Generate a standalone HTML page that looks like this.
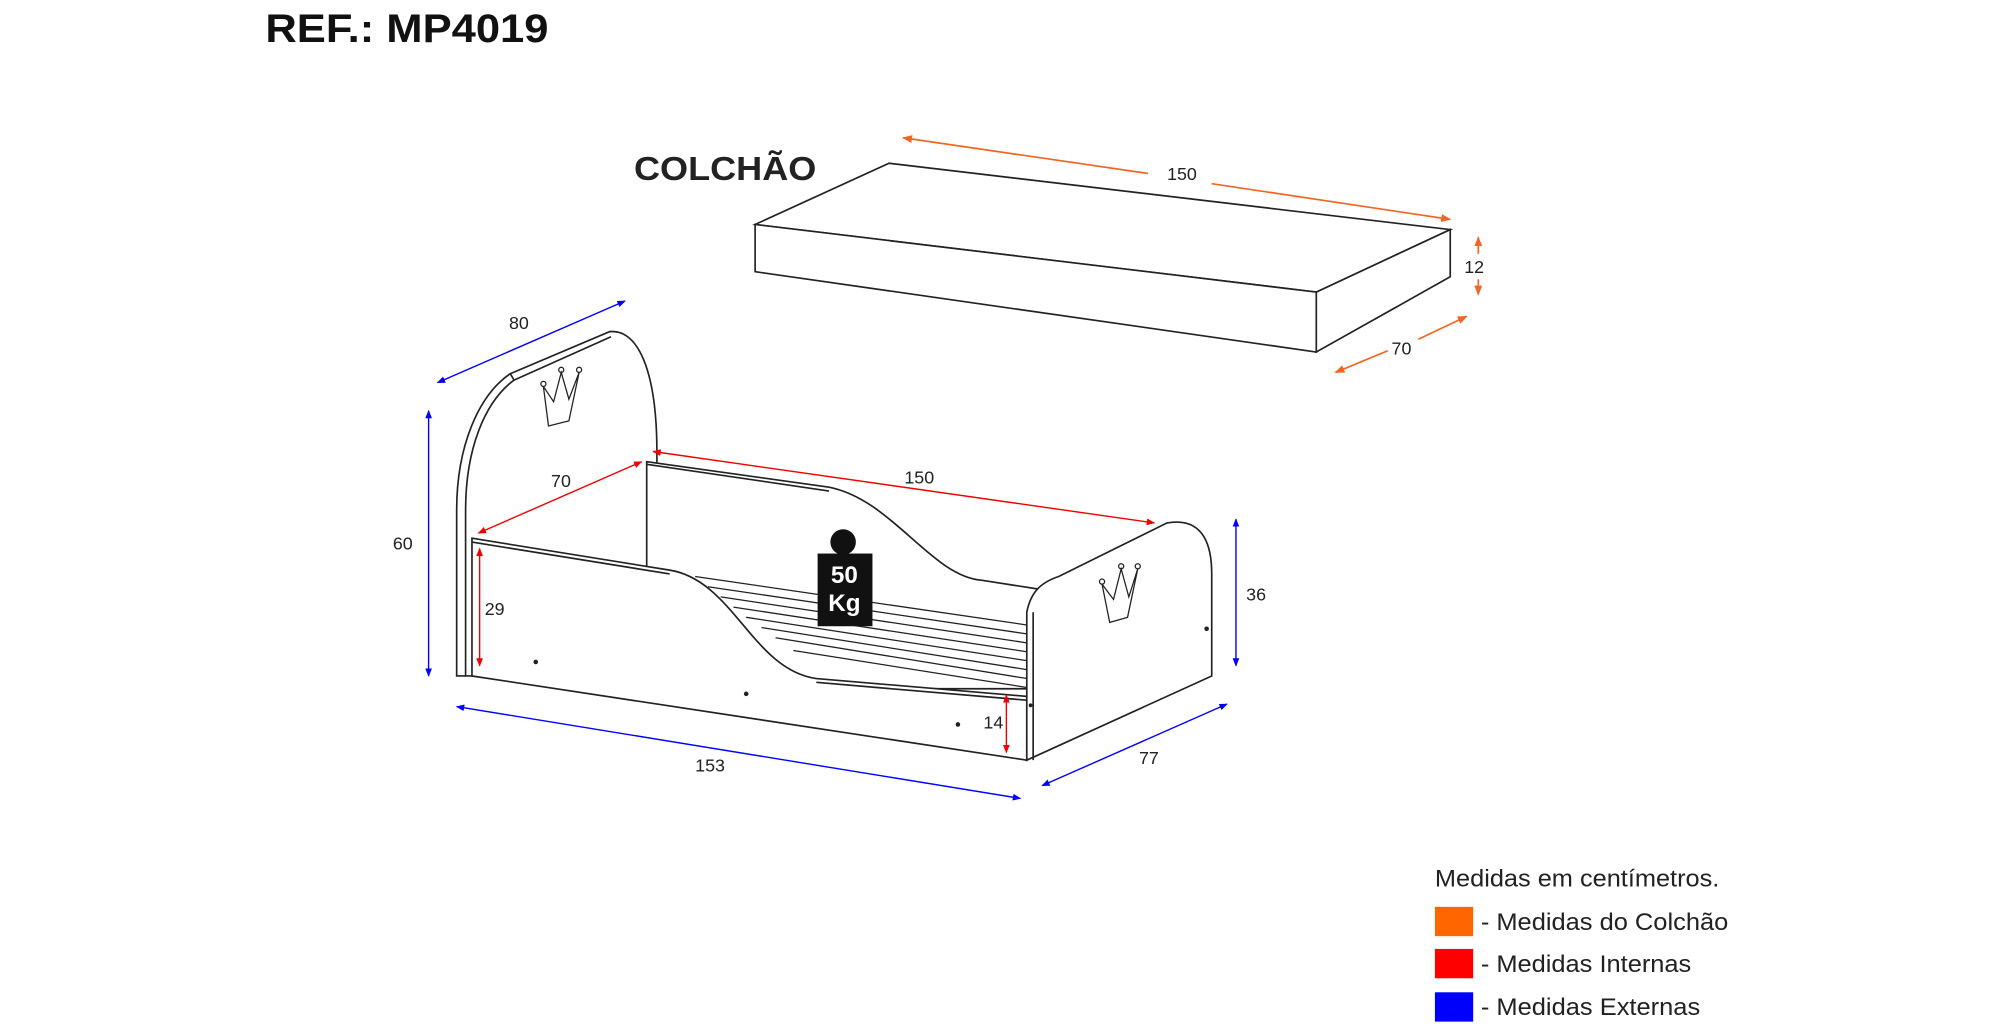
<!DOCTYPE html>
<html><head><meta charset="utf-8"><style>html,body{margin:0;padding:0;background:#fff}svg{display:block}</style></head>
<body>
<svg width="2000" height="1028" viewBox="0 0 1568 806" xmlns="http://www.w3.org/2000/svg" font-family="Liberation Sans, Arial, sans-serif">
<defs>
<marker id="ao" viewBox="0 0 10 10" refX="9" refY="5" markerWidth="6" markerHeight="6" orient="auto-start-reverse"><path d="M0,1 L10,5 L0,9 z" fill="#f26522"/></marker>
<marker id="ar" viewBox="0 0 10 10" refX="9" refY="5" markerWidth="6" markerHeight="6" orient="auto-start-reverse"><path d="M0,1 L10,5 L0,9 z" fill="#e00"/></marker>
<marker id="ab" viewBox="0 0 10 10" refX="9" refY="5" markerWidth="6" markerHeight="6" orient="auto-start-reverse"><path d="M0,1 L10,5 L0,9 z" fill="#00f"/></marker>
</defs>
<text x="208" y="33" font-size="31" font-weight="bold" fill="#111" textLength="222" lengthAdjust="spacingAndGlyphs">REF.: MP4019</text>
<text x="497" y="141" font-size="26" font-weight="bold" fill="#222" textLength="143" lengthAdjust="spacingAndGlyphs">COLCHÃO</text>

<!-- mattress -->
<g fill="#fff" stroke="#222" stroke-width="1.3">
<polygon points="592,176 697,128 1137,180 1032,229"/>
<polygon points="592,176 592,213 1032,276 1032,229"/>
<polygon points="1032,229 1137,180 1137,217 1032,276"/>
</g>
<g stroke="#f26522" stroke-width="1.3" fill="none">
<line x1="708" y1="108" x2="900" y2="136" marker-start="url(#ao)"/>
<line x1="950" y1="144" x2="1137" y2="172" marker-end="url(#ao)"/>
<line x1="1159" y1="186" x2="1159" y2="199" marker-start="url(#ao)"/>
<line x1="1159" y1="219" x2="1159" y2="231" marker-end="url(#ao)"/>
<line x1="1047" y1="292" x2="1088" y2="275" marker-start="url(#ao)"/>
<line x1="1112" y1="266" x2="1150" y2="248" marker-end="url(#ao)"/>
</g>
<g font-size="14" fill="#222">
<text x="915" y="141">150</text>
<text x="1148" y="214">12</text>
<text x="1091" y="278">70</text>
</g>

<!-- bed -->
<g fill="#fff" stroke="#222" stroke-width="1.3">
<path d="M358,530 L358,400 C358,350 375,310 400,293 L478,260 C500,258 515,290 515,355 L515,530 Z"/>
<path d="M365,530 L365,400 C365,352 380,315 403,298" fill="none"/>
<line x1="400" y1="293" x2="403" y2="298"/>
<line x1="403" y1="298" x2="479" y2="264"/>
<path d="M507,362 L650,382 C700,392 730,452 770,455 L815,462 L815,540 L507,540 Z"/>
<line x1="507" y1="364" x2="650" y2="385"/>
<g stroke-width="1">
<line x1="545" y1="452" x2="805" y2="490"/>
<line x1="555" y1="460" x2="805" y2="497"/>
<line x1="565" y1="468" x2="805" y2="504"/>
<line x1="575" y1="476" x2="805" y2="511"/>
<line x1="585" y1="484" x2="805" y2="518"/>
<line x1="597" y1="492" x2="805" y2="525"/>
<line x1="608" y1="500" x2="805" y2="532"/>
<line x1="622" y1="510" x2="805" y2="539"/>
</g>
<path d="M370,422 L525,447 C575,455 590,525 640,532 L805,546 L805,596 L370,530 Z"/>
<line x1="370" y1="425" x2="525" y2="450"/>
<line x1="640" y1="535" x2="805" y2="549"/>
<path d="M805,596 L805,480 C808,465 815,457 830,452 L915,410 C945,405 950,430 950,450 L950,530 Z"/>
<line x1="810" y1="596" x2="810" y2="480"/>
</g>
<g fill="none" stroke="#222" stroke-width="1">
<path d="M430,334 L426,303 L434,315 L440,292 L446,313 L454,292 L446,330 Z"/>
<circle cx="426" cy="301" r="2"/><circle cx="440" cy="290" r="2"/><circle cx="454" cy="290" r="2"/>
<path d="M870,488 L864,458 L873,470 L879,446 L885,468 L892,446 L884,484 Z"/>
<circle cx="864" cy="456" r="2"/><circle cx="879" cy="444" r="2"/><circle cx="892" cy="444" r="2"/>
</g>
<g fill="#222"><circle cx="420" cy="519" r="1.8"/><circle cx="585" cy="544" r="1.8"/><circle cx="751" cy="568" r="1.8"/><circle cx="946" cy="493" r="1.8"/><circle cx="808" cy="553" r="1.5"/></g>
<circle cx="661" cy="425" r="10" fill="#111"/>
<rect x="641" y="434" width="43" height="57" fill="#111"/>
<text x="662" y="457" font-size="19" font-weight="bold" fill="#fff" text-anchor="middle">50</text>
<text x="662" y="479" font-size="19" font-weight="bold" fill="#fff" text-anchor="middle">Kg</text>

<g stroke="#e00" stroke-width="1.1">
<line x1="512" y1="354" x2="905" y2="410" marker-start="url(#ar)" marker-end="url(#ar)"/>
<line x1="375" y1="418" x2="503" y2="362" marker-start="url(#ar)" marker-end="url(#ar)"/>
<line x1="376" y1="430" x2="376" y2="522" marker-start="url(#ar)" marker-end="url(#ar)"/>
<line x1="789" y1="545" x2="789" y2="590" marker-start="url(#ar)" marker-end="url(#ar)"/>
</g>
<g stroke="#00f" stroke-width="1.1">
<line x1="343" y1="300" x2="490" y2="236" marker-start="url(#ab)" marker-end="url(#ab)"/>
<line x1="336" y1="322" x2="336" y2="530" marker-start="url(#ab)" marker-end="url(#ab)"/>
<line x1="969" y1="407" x2="969" y2="522" marker-start="url(#ab)" marker-end="url(#ab)"/>
<line x1="358" y1="554" x2="800" y2="626" marker-start="url(#ab)" marker-end="url(#ab)"/>
<line x1="817" y1="616" x2="962" y2="552" marker-start="url(#ab)" marker-end="url(#ab)"/>
</g>
<g font-size="14" fill="#222">
<text x="399" y="258">80</text>
<text x="308" y="431">60</text>
<text x="432" y="382">70</text>
<text x="709" y="379">150</text>
<text x="380" y="482">29</text>
<text x="771" y="571">14</text>
<text x="977" y="471">36</text>
<text x="545" y="605">153</text>
<text x="893" y="599">77</text>
</g>

<g font-size="19" fill="#222">
<text x="1125" y="695" textLength="223" lengthAdjust="spacingAndGlyphs">Medidas em centímetros.</text>
<rect x="1125" y="711" width="30" height="23" fill="#ff6600"/>
<text x="1161" y="729" textLength="194" lengthAdjust="spacingAndGlyphs">- Medidas do Colchão</text>
<rect x="1125" y="744" width="30" height="23" fill="#ff0000"/>
<text x="1161" y="762" textLength="165" lengthAdjust="spacingAndGlyphs">- Medidas Internas</text>
<rect x="1125" y="778" width="30" height="23" fill="#0000ff"/>
<text x="1161" y="796" textLength="172" lengthAdjust="spacingAndGlyphs">- Medidas Externas</text>
</g>
</svg>
</body></html>
